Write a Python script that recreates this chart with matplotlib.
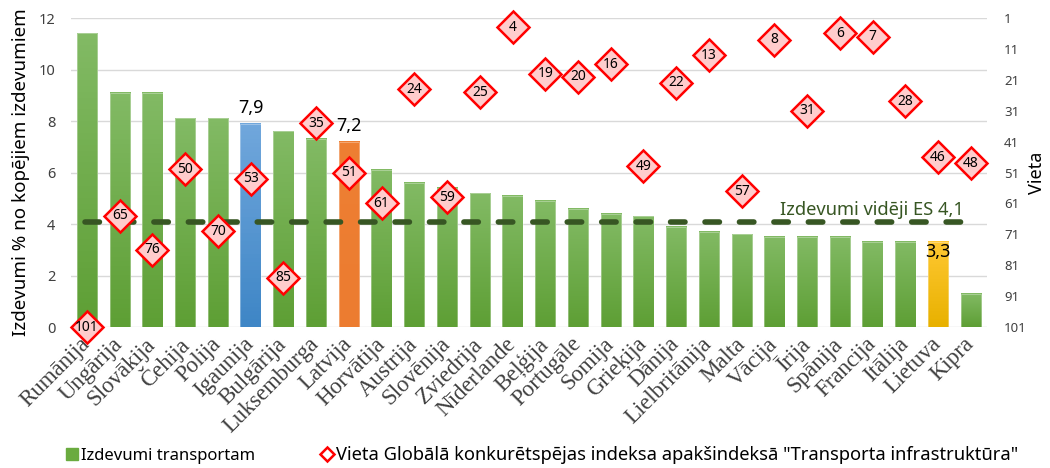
import matplotlib
matplotlib.use("Agg")
import matplotlib.pyplot as plt
from matplotlib.lines import Line2D
from matplotlib.colors import LinearSegmentedColormap
import numpy as np

countries = ["Rumānija", "Ungārija", "Slovākija", "Čehija", "Polija", "Igaunija",
             "Bulgārija", "Luksemburga", "Latvija", "Horvātija", "Austrija",
             "Slovēnija", "Zviedrija", "Nīderlande", "Beļģija", "Portugāle",
             "Somija", "Grieķija", "Dānija", "Lielbritānija", "Malta", "Vācija",
             "Īrija", "Spānija", "Francija", "Itālija", "Lietuva", "Kipra"]
spending = [11.4, 9.1, 9.1, 8.1, 8.1, 7.9, 7.6, 7.3, 7.2, 6.1, 5.6, 5.4, 5.2, 5.1,
            4.9, 4.6, 4.4, 4.3, 3.9, 3.7, 3.6, 3.5, 3.5, 3.5, 3.3, 3.3, 3.3, 1.3]
rank = [101, 65, 76, 50, 70, 53, 85, 35, 51, 61, 24, 59, 25, 4, 19, 20, 16, 49,
        22, 13, 57, 8, 31, 6, 7, 28, 46, 48]
eu_avg = 4.1
highlight = {"Igaunija": "blue", "Latvija": "orange", "Lietuva": "yellow"}
value_labels = {"Igaunija": "7,9", "Latvija": "7,2", "Lietuva": "3,3"}

# top / bottom colours of the gradient fills
grad = {
    "green": ("#82ba64", "#5e9f35"),
    "blue": ("#70a7dc", "#3f86c6"),
    "orange": ("#ee7f33", "#ec7c30"),
    "yellow": ("#ffc832", "#e8b100"),
}

plt.rcParams["font.family"] = ["Noto Sans", "DejaVu Sans"]

fig = plt.figure(figsize=(10.5, 4.68), dpi=100)
ax = fig.add_axes([0.0672, 0.301, 0.873, 0.6605])
x = np.arange(len(countries))

bars = ax.bar(x, spending, width=0.62, color="none", zorder=2)
for b, c in zip(bars, countries):
    top, bot = grad[highlight.get(c, "green")]
    cmap = LinearSegmentedColormap.from_list("g", [bot, top])
    x0, y0 = b.get_x(), b.get_y()
    ax.imshow(np.linspace(0, 1, 50).reshape(-1, 1), cmap=cmap, origin="lower",
              extent=[x0, x0 + b.get_width(), y0, y0 + b.get_height()],
              aspect="auto", zorder=2)
    b.set_edgecolor("#ffffff60")
    b.set_linewidth(0.6)
    b.set_zorder(2.1)

ax.set_xlim(-0.5, len(countries) - 0.5)
ax.set_ylim(0, 12)
ax.set_yticks(range(0, 13, 2))
ax.grid(axis="y", color="#d9d9d9", linewidth=1)
ax.set_axisbelow(True)
for s in ax.spines.values():
    s.set_visible(False)
ax.tick_params(axis="y", length=0, pad=11, labelsize=10.5, labelcolor="#404040")
ax.tick_params(axis="x", length=0, pad=10)
ax.set_xticks(x)
ax.set_xticklabels(countries, rotation=45, ha="right", va="center",
                   rotation_mode="anchor", family="Liberation Serif",
                   fontsize=16.5, color="#404040")
ax.set_ylabel("Izdevumi % no kopējiem izdevumiem", fontsize=13.5, labelpad=6)

# EU average line
ax.plot([-0.06, 26.7], [eu_avg, eu_avg], color="#375623", lw=4,
        dashes=(2.6, 3.6), dash_capstyle="round", zorder=3)
ax.text(23.97, 4.56, "Izdevumi vidēji ES 4,1", color="#375623",
        fontsize=13.2, ha="center", va="center", zorder=3)

for c, lab in value_labels.items():
    i = countries.index(c)
    dy = -0.4 if c == "Lietuva" else 0.6
    ax.text(i, spending[i] + dy, lab, ha="center", va="center", fontsize=13,
            zorder=4)

ax2 = ax.twinx()
ax2.set_ylim(101, 1)
ax2.set_yticks(range(1, 102, 10))
for s in ax2.spines.values():
    s.set_visible(False)
ax2.tick_params(axis="y", length=0, pad=12, labelsize=9.5, labelcolor="#404040")
ax2.set_ylabel("Vieta", fontsize=13, labelpad=1)
ax2.plot(x, rank, linestyle="none", marker="D", markersize=16.5,
         markerfacecolor="#ffcccc", markeredgecolor="#ff0000", markeredgewidth=1.8,
         clip_on=False, zorder=5)
for xi, r in zip(x, rank):
    ax2.text(xi, r, str(r), ha="center", va="center", fontsize=10, zorder=6,
             clip_on=False)

bar_handle = Line2D([], [], linestyle="none", marker="s", markersize=8.5,
                    markerfacecolor="#6aab3f", markeredgecolor="#6aab3f")
rank_handle = Line2D([], [], linestyle="none", marker="D", markersize=7,
                     markerfacecolor="white", markeredgecolor="#ff0000",
                     markeredgewidth=1.8)
fig.legend([bar_handle], ["Izdevumi transportam"], loc="lower left",
           bbox_to_anchor=(0.062, 0.008), frameon=False, fontsize=12,
           handletextpad=0.15, handlelength=0.8, borderpad=0, borderaxespad=0)
fig.legend([rank_handle],
           ['Vieta Globālā konkurētspējas indeksa apakšindeksā "Transporta infrastruktūra"'],
           loc="lower left", bbox_to_anchor=(0.3045, 0.008), frameon=False,
           fontsize=13.2, handletextpad=0.1, handlelength=0.8, borderpad=0,
           borderaxespad=0)

fig.savefig("out.png", dpi=100)
